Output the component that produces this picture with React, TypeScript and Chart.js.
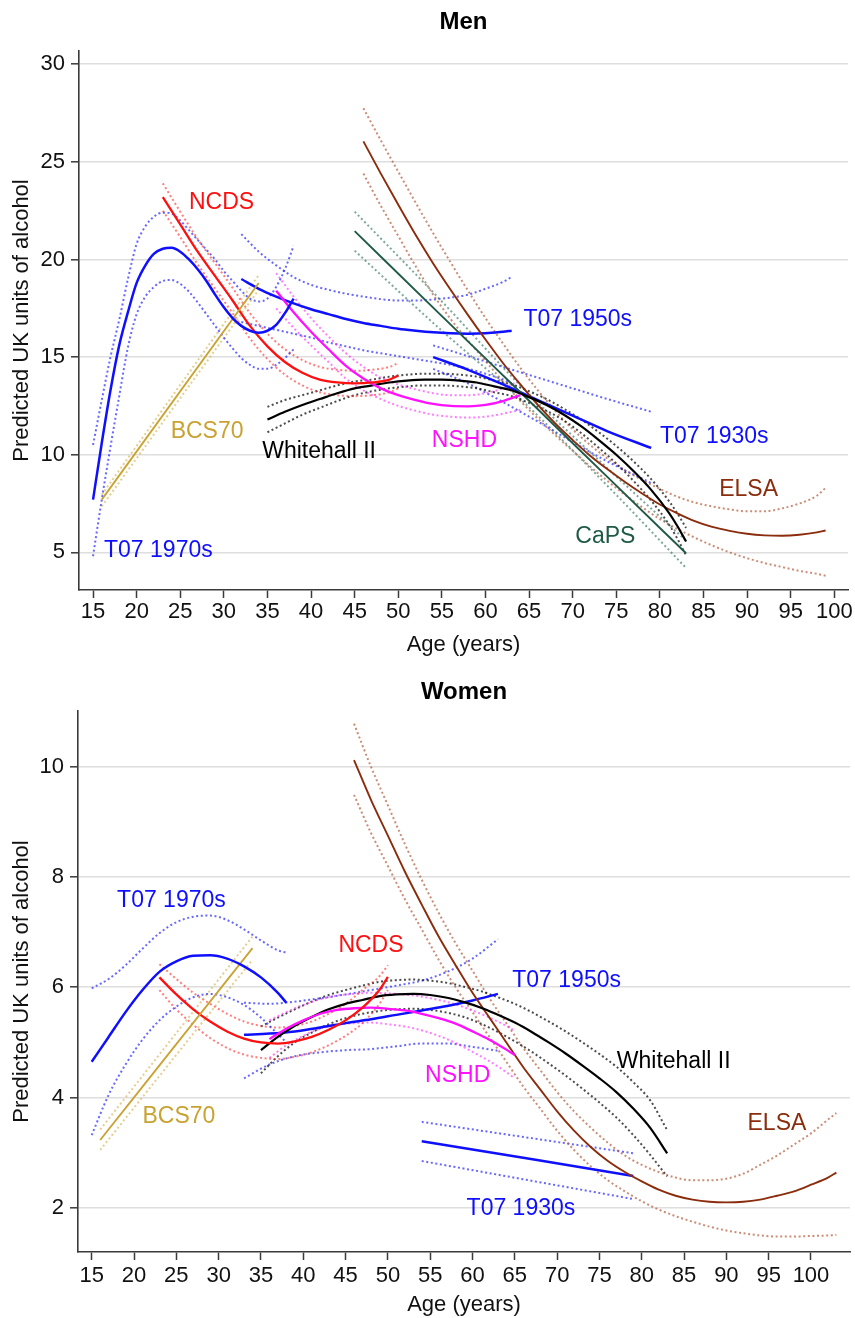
import React, { useEffect, useRef } from "react";
import { Chart, registerables } from "chart.js";

Chart.register(...registerables);

const FONT = "'Liberation Sans', Arial, Helvetica, sans-serif";

// ---------- Axis ticks ----------
const xTickLabels = [15, 20, 25, 30, 35, 40, 45, 50, 55, 60, 65, 70, 75, 80, 85, 90, 95, 100];
const menYTickLabels = [5, 10, 15, 20, 25, 30];
const womenYTickLabels = [2, 4, 6, 8, 10];

// ---------- Men ----------
const menT1970sAge = [15, 16, 17, 18, 19, 20, 21, 22, 23, 24, 25, 26, 27, 28, 29, 30, 31, 32, 33, 34, 35, 36, 37, 38];
const menT1970sMid = [7.7, 10.6, 13.3, 15.6, 17.3, 18.8, 19.7, 20.3, 20.55, 20.6, 20.4, 20.0, 19.5, 18.9, 18.2, 17.55, 17.0, 16.6, 16.35, 16.25, 16.35, 16.65, 17.25, 18.0];
const menT1970sHi = [10.5, 12.8, 15.0, 16.9, 19.0, 20.8, 21.7, 22.2, 22.4, 22.35, 22.0, 21.5, 21.0, 20.5, 20.0, 19.4, 18.9, 18.4, 18.0, 17.85, 18.0, 18.6, 19.5, 20.7];
const menT1970sLo = [4.8, 7.7, 10.4, 13.0, 15.5, 17.2, 18.1, 18.6, 18.9, 18.95, 18.75, 18.35, 17.8, 17.2, 16.6, 16.0, 15.45, 14.95, 14.6, 14.4, 14.4, 14.6, 14.95, 15.4];

const menBcsAge = [16, 34];
const menBcsMid = [7.7, 18.8];
const menBcsHi = [7.95, 19.2];
const menBcsLo = [7.35, 18.45];

const menNcdsAge = [23, 25, 27, 29, 31, 33, 35, 37, 39, 41, 43, 45, 47, 49, 50];
const menNcdsMid = [23.2, 21.8, 20.4, 19.15, 17.9, 16.6, 15.55, 14.75, 14.2, 13.85, 13.7, 13.65, 13.7, 13.85, 14.05];
const menNcdsHi = [23.9, 22.45, 21.05, 19.8, 18.55, 17.25, 16.2, 15.4, 14.85, 14.5, 14.35, 14.3, 14.35, 14.5, 14.7];
const menNcdsLo = [22.5, 21.15, 19.75, 18.5, 17.25, 15.95, 14.9, 14.1, 13.55, 13.2, 13.05, 13.0, 13.05, 13.2, 13.4];

const menNshdAge = [36, 38, 40, 42, 44, 46, 48, 50, 52, 54, 56, 58, 60, 62, 64];
const menNshdMid = [18.4, 17.3, 16.3, 15.4, 14.55, 13.9, 13.4, 13.05, 12.8, 12.6, 12.5, 12.48, 12.55, 12.75, 13.05];
const menNshdHi = [19.3, 18.1, 17.0, 16.05, 15.2, 14.5, 13.95, 13.6, 13.35, 13.15, 13.05, 13.05, 13.15, 13.4, 13.8];
const menNshdLo = [17.5, 16.5, 15.6, 14.75, 13.9, 13.3, 12.85, 12.5, 12.25, 12.05, 11.95, 11.9, 11.95, 12.1, 12.3];

const menWhAge = [35, 37, 39, 41, 43, 45, 47, 49, 51, 53, 55, 57, 59, 61, 63, 65, 67, 69, 71, 73, 75, 77, 79, 81, 82, 83];
const menWhMid = [11.8, 12.2, 12.55, 12.85, 13.15, 13.4, 13.55, 13.7, 13.8, 13.85, 13.85, 13.8, 13.7, 13.5, 13.3, 12.95, 12.55, 12.05, 11.45, 10.75, 10.0, 9.15, 8.2, 7.05, 6.35, 5.55];
const menWhHi = [12.45, 12.8, 13.05, 13.3, 13.55, 13.75, 13.85, 14.0, 14.1, 14.15, 14.15, 14.1, 14.0, 13.8, 13.6, 13.25, 12.85, 12.35, 11.8, 11.15, 10.45, 9.65, 8.75, 7.65, 7.0, 6.25];
const menWhLo = [11.15, 11.6, 12.05, 12.4, 12.75, 13.05, 13.25, 13.4, 13.5, 13.55, 13.55, 13.5, 13.4, 13.2, 13.0, 12.65, 12.25, 11.75, 11.1, 10.35, 9.55, 8.65, 7.65, 6.45, 5.7, 4.85];

const menCapsAge = [45, 55, 64, 74, 83];
const menCapsMid = [21.45, 17.1, 13.2, 8.85, 4.95];
const menCapsHi = [22.45, 17.85, 13.55, 9.3, 5.6];
const menCapsLo = [20.45, 16.35, 12.85, 8.4, 4.2];

const menElsaAge = [46, 48, 50, 52, 54, 56, 58, 60, 62, 64, 66, 68, 70, 72, 74, 76, 78, 80, 82, 84, 86, 88, 90, 92, 94, 96, 98, 99];
const menElsaMid = [26.05, 24.4, 22.8, 21.25, 19.8, 18.45, 17.15, 15.9, 14.7, 13.6, 12.55, 11.6, 10.75, 9.95, 9.25, 8.6, 8.0, 7.45, 7.0, 6.6, 6.3, 6.1, 5.95, 5.87, 5.85, 5.9, 6.02, 6.12];
const menElsaHi = [27.75, 26.1, 24.5, 22.9, 21.35, 19.85, 18.4, 17.0, 15.7, 14.45, 13.3, 12.25, 11.3, 10.5, 9.8, 9.2, 8.7, 8.25, 7.85, 7.55, 7.35, 7.2, 7.1, 7.1, 7.25, 7.5, 7.9, 8.3];
const menElsaLo = [24.4, 22.75, 21.2, 19.65, 18.2, 16.95, 15.85, 14.8, 13.75, 12.75, 11.85, 11.0, 10.2, 9.4, 8.65, 7.95, 7.3, 6.7, 6.2, 5.75, 5.35, 5.0, 4.7, 4.45, 4.25, 4.05, 3.9, 3.8];

const menT1950sAge = [32, 34, 36, 38, 40, 42, 44, 46, 48, 50, 52, 54, 56, 58, 60, 62, 63];
const menT1950sMid = [19.0, 18.5, 18.1, 17.75, 17.45, 17.2, 16.95, 16.75, 16.6, 16.45, 16.35, 16.27, 16.22, 16.2, 16.22, 16.3, 16.35];
const menT1950sHi = [21.3, 20.4, 19.7, 19.1, 18.7, 18.45, 18.25, 18.1, 17.97, 17.9, 17.9, 17.95, 18.05, 18.2, 18.5, 18.85, 19.1];
const menT1950sLo = [16.8, 16.6, 16.4, 16.2, 16.0, 15.75, 15.55, 15.35, 15.2, 15.05, 14.9, 14.75, 14.6, 14.4, 14.15, 13.85, 13.65];

const menT1930sAge = [54, 58, 62, 66, 70, 74, 79];
const menT1930sMid = [15.0, 14.35, 13.6, 12.8, 12.0, 11.2, 10.35];
const menT1930sHi = [15.6, 15.05, 14.5, 13.95, 13.4, 12.85, 12.2];
const menT1930sLo = [14.4, 13.65, 12.7, 11.7, 10.65, 9.65, 8.55];

// ---------- Women ----------
const womenT1970sAge = [15, 17, 19, 21, 23, 25, 27, 29, 31, 33, 35, 37, 38];
const womenT1970sMid = [4.65, 5.1, 5.55, 5.95, 6.28, 6.47, 6.57, 6.58, 6.52, 6.38, 6.18, 5.9, 5.72];
const womenT1970sHi = [5.98, 6.15, 6.4, 6.7, 6.98, 7.18, 7.28, 7.3, 7.22, 7.05, 6.85, 6.67, 6.63];
const womenT1970sLo = [3.32, 4.05, 4.6, 5.05, 5.4, 5.65, 5.82, 5.88, 5.82, 5.68, 5.45, 5.15, 5.0];

const womenBcsAge = [16, 34];
const womenBcsMid = [3.23, 6.71];
const womenBcsHi = [3.42, 6.92];
const womenBcsLo = [3.05, 6.5];

const womenNcdsAge = [23, 25, 27, 29, 31, 33, 35, 37, 39, 41, 43, 45, 47, 49, 50];
const womenNcdsMid = [6.18, 5.87, 5.6, 5.38, 5.2, 5.07, 5.0, 4.98, 5.02, 5.1, 5.23, 5.4, 5.63, 5.95, 6.19];
const womenNcdsHi = [6.42, 6.15, 5.9, 5.7, 5.52, 5.38, 5.3, 5.27, 5.3, 5.38, 5.52, 5.7, 5.95, 6.2, 6.4];
const womenNcdsLo = [5.95, 5.6, 5.32, 5.08, 4.9, 4.78, 4.72, 4.7, 4.74, 4.82, 4.95, 5.12, 5.35, 5.7, 5.95];

const womenNshdAge = [36, 38, 40, 42, 44, 46, 48, 50, 52, 54, 56, 58, 60, 62, 64, 65];
const womenNshdMid = [5.06, 5.25, 5.4, 5.52, 5.59, 5.62, 5.63, 5.61, 5.58, 5.52, 5.44, 5.34, 5.2, 5.05, 4.87, 4.77];
const womenNshdHi = [5.4, 5.55, 5.68, 5.78, 5.85, 5.88, 5.9, 5.89, 5.87, 5.83, 5.77, 5.69, 5.58, 5.45, 5.3, 5.21];
const womenNshdLo = [4.72, 4.95, 5.12, 5.25, 5.32, 5.35, 5.36, 5.33, 5.29, 5.22, 5.12, 4.99, 4.83, 4.66, 4.46, 4.35];

const womenWhAge = [35, 37, 39, 41, 43, 45, 47, 49, 51, 53, 55, 57, 59, 61, 63, 65, 67, 69, 71, 73, 75, 77, 79, 81, 83];
const womenWhMid = [4.86, 5.1, 5.3, 5.46, 5.6, 5.7, 5.77, 5.84, 5.87, 5.88, 5.86, 5.81, 5.73, 5.63, 5.5, 5.36, 5.19, 5.0, 4.8, 4.58, 4.35, 4.1, 3.8, 3.45, 2.99];
const womenWhHi = [5.29, 5.45, 5.6, 5.74, 5.86, 5.95, 6.03, 6.1, 6.13, 6.14, 6.12, 6.08, 6.01, 5.93, 5.82, 5.7, 5.55, 5.38, 5.2, 5.0, 4.79, 4.56, 4.28, 3.95, 3.41];
const womenWhLo = [4.44, 4.75, 5.0, 5.18, 5.33, 5.44, 5.52, 5.57, 5.6, 5.61, 5.59, 5.54, 5.46, 5.34, 5.19, 5.02, 4.83, 4.62, 4.4, 4.16, 3.91, 3.64, 3.32, 2.96, 2.57];

const womenElsaAge = [46, 48, 50, 52, 54, 56, 58, 60, 62, 64, 66, 68, 70, 72, 74, 76, 78, 80, 82, 84, 86, 88, 90, 92, 94, 96, 98, 100, 102, 103];
const womenElsaMid = [10.12, 9.4, 8.75, 8.1, 7.5, 6.92, 6.4, 5.9, 5.45, 5.0, 4.55, 4.15, 3.75, 3.4, 3.1, 2.85, 2.65, 2.48, 2.33, 2.22, 2.15, 2.11, 2.1, 2.11, 2.15, 2.22, 2.3, 2.42, 2.55, 2.64];
const womenElsaHi = [10.78, 10.0, 9.3, 8.6, 7.95, 7.35, 6.8, 6.3, 5.8, 5.35, 4.9, 4.5, 4.1, 3.75, 3.45, 3.18, 2.95, 2.78, 2.65, 2.55, 2.5, 2.5, 2.53, 2.62, 2.78, 2.95, 3.15, 3.35, 3.6, 3.72];
const womenElsaLo = [9.49, 8.8, 8.2, 7.6, 7.05, 6.5, 6.0, 5.55, 5.1, 4.65, 4.2, 3.8, 3.4, 3.05, 2.75, 2.5, 2.3, 2.12, 1.97, 1.85, 1.75, 1.66, 1.59, 1.54, 1.5, 1.48, 1.48, 1.49, 1.5, 1.51];

const womenT1950sAge = [33, 36, 39, 42, 45, 48, 51, 54, 57, 60, 63];
const womenT1950sMid = [5.14, 5.16, 5.2, 5.27, 5.35, 5.42, 5.5, 5.58, 5.66, 5.76, 5.88];
const womenT1950sHi = [5.72, 5.7, 5.74, 5.8, 5.87, 5.95, 6.03, 6.12, 6.28, 6.52, 6.87];
const womenT1950sLo = [4.35, 4.6, 4.75, 4.82, 4.86, 4.88, 4.93, 4.98, 4.98, 4.92, 4.85];

const womenT1930sAge = [54, 79];
const womenT1930sMid = [3.21, 2.58];
const womenT1930sHi = [3.56, 2.99];
const womenT1930sLo = [2.85, 2.16];

// ---------- Colours ----------
const BLUE = "#0f0fff";
const RED = "#ff1010";
const MAGENTA = "#ff10ff";
const BLACK = "#000000";
const GOLD = "#c9a232";
const GREEN = "#1f5a47";
const BROWN = "#8b2c0c";

const CI_BLUE = "rgba(40,40,255,0.7)";
const CI_RED = "rgba(255,40,40,0.6)";
const CI_MAGENTA = "rgba(255,40,255,0.6)";
const CI_BLACK = "rgba(0,0,0,0.7)";
const CI_GOLD = "rgba(210,175,70,0.6)";
const CI_GREEN = "rgba(40,110,90,0.6)";
const CI_BROWN = "rgba(175,80,45,0.65)";

// ---------- Text labels (anchor: left edge, vertical middle) ----------
const menLabelText = ["NCDS", "T07 1950s", "BCS70", "Whitehall II", "NSHD", "T07 1930s", "ELSA", "CaPS", "T07 1970s"];
const menLabelAge = [26.0, 64.35, 23.9, 34.4, 53.85, 80.0, 86.8, 70.3, 16.26];
const menLabelValue = [22.93, 16.9, 11.2, 10.15, 10.72, 10.9, 8.23, 5.8, 5.08];
const menLabelColor = [RED, BLUE, GOLD, BLACK, MAGENTA, BLUE, BROWN, GREEN, BLUE];

const womenLabelText = ["T07 1970s", "NCDS", "T07 1950s", "Whitehall II", "NSHD", "BCS70", "ELSA", "T07 1930s"];
const womenLabelAge = [18.0, 44.15, 64.7, 77.05, 54.4, 21.0, 92.5, 59.3];
const womenLabelValue = [7.58, 6.75, 6.12, 4.65, 4.4, 3.66, 3.52, 1.98];
const womenLabelColor = [BLUE, RED, BLUE, BLACK, MAGENTA, GOLD, BROWN, BLUE];

type Series = {
  name: string;
  color: string;
  ci: string;
  width: number;
  age: number[];
  mid: number[];
  lo: number[];
  hi: number[];
};

const menSeries: Series[] = [
  { name: "T07 1970s", color: BLUE, ci: CI_BLUE, width: 2.5, age: menT1970sAge, mid: menT1970sMid, lo: menT1970sLo, hi: menT1970sHi },
  { name: "BCS70", color: GOLD, ci: CI_GOLD, width: 1.8, age: menBcsAge, mid: menBcsMid, lo: menBcsLo, hi: menBcsHi },
  { name: "NCDS", color: RED, ci: CI_RED, width: 2.3, age: menNcdsAge, mid: menNcdsMid, lo: menNcdsLo, hi: menNcdsHi },
  { name: "NSHD", color: MAGENTA, ci: CI_MAGENTA, width: 2.3, age: menNshdAge, mid: menNshdMid, lo: menNshdLo, hi: menNshdHi },
  { name: "Whitehall II", color: BLACK, ci: CI_BLACK, width: 2.2, age: menWhAge, mid: menWhMid, lo: menWhLo, hi: menWhHi },
  { name: "CaPS", color: GREEN, ci: CI_GREEN, width: 1.9, age: menCapsAge, mid: menCapsMid, lo: menCapsLo, hi: menCapsHi },
  { name: "ELSA", color: BROWN, ci: CI_BROWN, width: 1.9, age: menElsaAge, mid: menElsaMid, lo: menElsaLo, hi: menElsaHi },
  { name: "T07 1950s", color: BLUE, ci: CI_BLUE, width: 2.5, age: menT1950sAge, mid: menT1950sMid, lo: menT1950sLo, hi: menT1950sHi },
  { name: "T07 1930s", color: BLUE, ci: CI_BLUE, width: 2.5, age: menT1930sAge, mid: menT1930sMid, lo: menT1930sLo, hi: menT1930sHi },
];

const womenSeries: Series[] = [
  { name: "T07 1970s", color: BLUE, ci: CI_BLUE, width: 2.5, age: womenT1970sAge, mid: womenT1970sMid, lo: womenT1970sLo, hi: womenT1970sHi },
  { name: "BCS70", color: GOLD, ci: CI_GOLD, width: 1.8, age: womenBcsAge, mid: womenBcsMid, lo: womenBcsLo, hi: womenBcsHi },
  { name: "NCDS", color: RED, ci: CI_RED, width: 2.3, age: womenNcdsAge, mid: womenNcdsMid, lo: womenNcdsLo, hi: womenNcdsHi },
  { name: "NSHD", color: MAGENTA, ci: CI_MAGENTA, width: 2.3, age: womenNshdAge, mid: womenNshdMid, lo: womenNshdLo, hi: womenNshdHi },
  { name: "Whitehall II", color: BLACK, ci: CI_BLACK, width: 2.2, age: womenWhAge, mid: womenWhMid, lo: womenWhLo, hi: womenWhHi },
  { name: "ELSA", color: BROWN, ci: CI_BROWN, width: 1.9, age: womenElsaAge, mid: womenElsaMid, lo: womenElsaLo, hi: womenElsaHi },
  { name: "T07 1950s", color: BLUE, ci: CI_BLUE, width: 2.5, age: womenT1950sAge, mid: womenT1950sMid, lo: womenT1950sLo, hi: womenT1950sHi },
  { name: "T07 1930s", color: BLUE, ci: CI_BLUE, width: 2.5, age: womenT1930sAge, mid: womenT1930sMid, lo: womenT1930sLo, hi: womenT1930sHi },
];

function buildDatasets(list: Series[]) {
  const out: any[] = [];
  list.forEach((s) => {
    const pts = (vals: number[]) => s.age.map((a, i) => ({ x: a, y: vals[i] }));
    out.push({
      label: s.name,
      data: pts(s.mid),
      borderColor: s.color,
      borderWidth: s.width,
      pointRadius: 0,
      cubicInterpolationMode: "monotone",
      fill: false,
      order: 0,
    });
    [s.lo, s.hi].forEach((vals, k) => {
      out.push({
        label: s.name + (k === 0 ? " lower" : " upper"),
        data: pts(vals),
        borderColor: s.ci,
        borderWidth: 2,
        borderDash: [2, 2.6],
        pointRadius: 0,
        cubicInterpolationMode: "monotone",
        fill: false,
        order: 1,
      });
    });
  });
  return out;
}

type PanelCfg = {
  title: string;
  titleY: number;
  height: number;
  series: Series[];
  xMin: number;
  xMax: number;
  yMin: number;
  yMax: number;
  yTicks: number[];
  yAxisWidth: number;
  xAxisHeight: number;
  padTop: number;
  padRight: number;
  xTickPadding: number;
  xTitlePadBottom: number;
  labelText: string[];
  labelAge: number[];
  labelValue: number[];
  labelColor: string[];
};

const menCfg: PanelCfg = {
  title: "Men",
  titleY: 22,
  height: 660,
  series: menSeries,
  xMin: 13.39,
  xMax: 101.57,
  yMin: 3.07,
  yMax: 30.68,
  yTicks: menYTickLabels,
  yAxisWidth: 79,
  xAxisHeight: 70,
  padTop: 51,
  padRight: 7,
  xTickPadding: 1,
  xTitlePadBottom: 2,
  labelText: menLabelText,
  labelAge: menLabelAge,
  labelValue: menLabelValue,
  labelColor: menLabelColor,
};

const womenCfg: PanelCfg = {
  title: "Women",
  titleY: 32.5,
  height: 658,
  series: womenSeries,
  xMin: 13.38,
  xMax: 104.61,
  yMin: 1.2,
  yMax: 11.01,
  yTicks: womenYTickLabels,
  yAxisWidth: 78,
  xAxisHeight: 66,
  padTop: 51,
  padRight: 5,
  xTickPadding: 3,
  xTitlePadBottom: 0,
  labelText: womenLabelText,
  labelAge: womenLabelAge,
  labelValue: womenLabelValue,
  labelColor: womenLabelColor,
};

function Panel({ cfg }: { cfg: PanelCfg }) {
  const ref = useRef<HTMLCanvasElement | null>(null);

  useEffect(() => {
    if (!ref.current) return;
    const overlay = {
      id: "overlayText",
      afterDatasetsDraw(chart: any) {
        const { ctx, chartArea, scales } = chart;
        ctx.save();
        ctx.font = `23px ${FONT}`;
        ctx.textAlign = "left";
        ctx.textBaseline = "middle";
        cfg.labelText.forEach((t, i) => {
          ctx.fillStyle = cfg.labelColor[i];
          ctx.fillText(t, scales.x.getPixelForValue(cfg.labelAge[i]), scales.y.getPixelForValue(cfg.labelValue[i]));
        });
        ctx.font = `bold 24px ${FONT}`;
        ctx.textAlign = "center";
        ctx.fillStyle = "#000";
        ctx.fillText(cfg.title, (chartArea.left + chartArea.right) / 2, cfg.titleY);
        ctx.restore();
      },
    };

    const chart = new Chart(ref.current, {
      type: "line",
      data: { datasets: buildDatasets(cfg.series) },
      options: {
        responsive: false,
        maintainAspectRatio: false,
        animation: false,
        devicePixelRatio: 1,
        layout: { padding: { top: cfg.padTop, right: cfg.padRight, left: 0, bottom: 0 } },
        plugins: {
          legend: { display: false },
          tooltip: { enabled: false },
          title: { display: false },
        },
        scales: {
          x: {
            type: "linear",
            min: cfg.xMin,
            max: cfg.xMax,
            afterBuildTicks: (s: any) => {
              s.ticks = xTickLabels.map((v) => ({ value: v }));
            },
            afterFit: (s: any) => {
              s.height = cfg.xAxisHeight;
              s.paddingLeft = 0;
              s.paddingRight = 0;
            },
            grid: {
              display: true,
              drawOnChartArea: false,
              drawTicks: true,
              tickLength: 8,
              tickColor: "#3a3a3a",
              tickWidth: 1.5,
            },
            border: { display: true, color: "#3a3a3a", width: 1.6 },
            ticks: {
              autoSkip: false,
              maxRotation: 0,
              padding: cfg.xTickPadding,
              color: "#111",
              font: { family: FONT, size: 22 },
            },
            title: {
              display: true,
              text: "Age (years)",
              color: "#111",
              font: { family: FONT, size: 22 },
              padding: { top: 0, bottom: cfg.xTitlePadBottom },
            },
          },
          y: {
            type: "linear",
            min: cfg.yMin,
            max: cfg.yMax,
            afterBuildTicks: (s: any) => {
              s.ticks = cfg.yTicks.map((v) => ({ value: v }));
            },
            afterFit: (s: any) => {
              s.width = cfg.yAxisWidth;
              s.paddingTop = 0;
              s.paddingBottom = 0;
            },
            grid: {
              display: true,
              color: "#dedede",
              lineWidth: 1.6,
              drawTicks: true,
              tickLength: 8,
              tickColor: "#3a3a3a",
              tickWidth: 1.5,
            },
            border: { display: true, color: "#3a3a3a", width: 1.6 },
            ticks: {
              padding: 6,
              color: "#111",
              font: { family: FONT, size: 22 },
            },
            title: {
              display: true,
              text: "Predicted UK units of alcohol",
              color: "#111",
              font: { family: FONT, size: 22 },
              padding: { top: 9, bottom: 0 },
            },
          },
        },
      },
      plugins: [overlay],
    } as any);

    return () => chart.destroy();
  }, [cfg]);

  return (
    <div style={{ width: 855, height: cfg.height, position: "relative" }}>
      <canvas ref={ref} width={855} height={cfg.height} style={{ display: "block", width: 855, height: cfg.height }} />
    </div>
  );
}

export default function App() {
  useEffect(() => {
    document.body.style.margin = "0";
    document.body.style.background = "#ffffff";
  }, []);
  return (
    <div style={{ width: 855, height: 1318, background: "#fff" }}>
      <Panel cfg={menCfg} />
      <Panel cfg={womenCfg} />
    </div>
  );
}
